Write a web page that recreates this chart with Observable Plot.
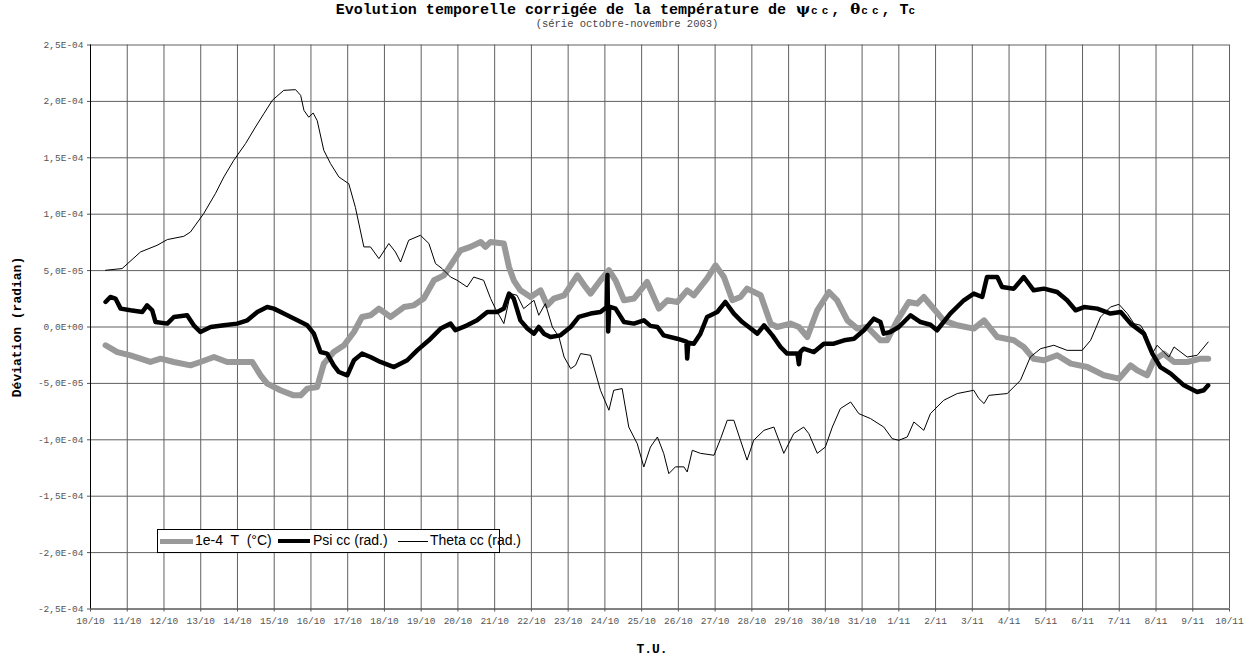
<!DOCTYPE html>
<html><head><meta charset="utf-8">
<script src="https://cdn.jsdelivr.net/npm/d3@7"></script>
<script src="https://cdn.jsdelivr.net/npm/@observablehq/plot@0.6"></script>
<style>
body{margin:0;background:#fff;}
#wrap{position:relative;width:1254px;height:660px;overflow:hidden;}
#head{height:30px;width:1254px;position:relative;}
#title{position:absolute;top:2px;left:0;width:1254px;text-align:center;font:bold 15px/16px "Liberation Mono","Courier New",monospace;color:#000;white-space:pre;}
#title .g{display:inline-block;line-height:14px;font-family:"DejaVu Serif",serif;font-weight:bold;font-size:15px;padding:0 1px;}
#title .s{display:inline-block;line-height:12px;font-size:11px;font-weight:bold;letter-spacing:4px;margin-right:-1px;}
#sub{position:absolute;top:19px;left:0;width:1254px;text-align:center;font:10.5px/11px "Liberation Mono","Courier New",monospace;color:#444;}
#legend{position:absolute;left:157px;top:529px;width:341px;height:22px;border:1px solid #000;background:#fff;font:14px "Liberation Sans",Arial,sans-serif;color:#000;}
#legend .it{position:absolute;top:2px;white-space:pre;}
#legend .sw{position:absolute;}
</style>
</head><body>
<div id="wrap">
<div id="head">
<div id="title">Evolution temporelle corrigée de la température de <span class="g">ψ</span><span class="s">cc</span>, <span class="g">θ</span><span class="s">cc</span>, T<span class="s">c</span></div>
<div id="sub">(série octobre-novembre 2003)</div>
</div>
<div id="chart"></div>
<div id="legend"></div>
</div>
<script>
// x tick labels (one per day, 10/10 .. 10/11)
const xLabels = ["10/10","11/10","12/10","13/10","14/10","15/10","16/10","17/10","18/10","19/10","20/10","21/10","22/10","23/10","24/10","25/10","26/10","27/10","28/10","29/10","30/10","31/10","1/11","2/11","3/11","4/11","5/11","6/11","7/11","8/11","9/11","10/11"];
const xTicks = d3.range(xLabels.length);
// y ticks (units of 1e-5 radian)
const yTickVals = [25, 20, 15, 10, 5, 0, -5, -10, -15, -20, -25];
const yTickLabels = ["2,5E-04","2,0E-04","1,5E-04","1,0E-04","5,0E-05","0,0E+00","-5,0E-05","-1,0E-04","-1,5E-04","-2,0E-04","-2,5E-04"];

// Series: day offset from 10/10 00:00, value in 1e-5
const tempDays = [0.41,0.73,1.09,1.63,1.91,2.27,2.72,2.99,3.36,3.72,3.99,4.40,4.63,4.81,5.17,5.53,5.72,5.90,6.17,6.35,6.62,6.90,7.17,7.39,7.62,7.85,8.17,8.53,8.80,9.07,9.35,9.62,9.80,10.07,10.34,10.62,10.75,10.89,11.25,11.39,11.52,11.70,11.98,12.25,12.43,12.61,12.89,13.25,13.47,13.61,13.88,14.11,14.29,14.52,14.79,15.15,15.33,15.47,15.70,15.97,16.24,16.42,16.78,17.01,17.24,17.47,17.69,17.87,18.24,18.51,18.69,19.05,19.28,19.51,19.78,20.10,20.32,20.60,20.87,21.14,21.50,21.68,21.96,22.27,22.50,22.68,22.91,23.22,23.59,24.04,24.32,24.68,25.13,25.40,25.67,25.95,26.31,26.68,27.13,27.58,27.99,28.31,28.49,28.76,28.94,29.21,29.49,29.85,30.21,30.42];
const tempVals = [-1.62,-2.22,-2.51,-3.1,-2.81,-3.1,-3.4,-3.1,-2.66,-3.1,-3.1,-3.1,-4.28,-5.02,-5.61,-6.06,-6.06,-5.46,-5.32,-3.25,-2.22,-1.62,-0.44,0.89,1.04,1.63,0.89,1.77,1.92,2.52,4.14,4.58,5.47,6.8,7.1,7.54,7.1,7.54,7.4,5.32,4.14,3.25,2.66,3.25,1.92,2.52,2.81,4.58,3.55,2.96,4.14,5.03,4.14,2.37,2.52,3.99,2.66,1.63,2.37,2.22,3.25,2.81,4.29,5.47,4.43,2.37,2.66,3.4,2.81,0.3,0,0.3,0,-0.89,1.48,3.1,2.37,0.59,-0.14,0,-1.18,-1.18,0.59,2.22,2.07,2.66,1.77,0.59,0.15,-0.14,0.59,-0.89,-1.18,-1.77,-2.81,-2.95,-2.51,-3.25,-3.55,-4.28,-4.58,-3.4,-3.84,-4.28,-2.95,-2.36,-3.1,-3.1,-2.81,-2.81];

const psiDays = [0.41,0.54,0.68,0.82,1.09,1.41,1.54,1.68,1.77,2.09,2.27,2.63,2.81,2.99,3.27,3.63,3.99,4.27,4.54,4.81,4.99,5.26,5.63,5.90,6.08,6.26,6.44,6.62,6.76,6.99,7.17,7.39,7.62,7.89,8.26,8.62,8.89,9.21,9.53,9.80,9.93,10.25,10.52,10.80,11.07,11.25,11.39,11.52,11.70,11.89,12.07,12.20,12.34,12.52,12.79,13.07,13.29,13.61,13.88,14.05,14.07,14.09,14.12,14.29,14.52,14.79,15.06,15.24,15.43,15.60,15.97,16.22,16.24,16.27,16.42,16.60,16.78,17.06,17.28,17.51,17.74,17.97,18.15,18.33,18.56,18.78,18.96,19.24,19.28,19.32,19.41,19.69,19.96,20.23,20.51,20.78,21.05,21.32,21.50,21.59,21.77,22.0,22.32,22.59,22.86,23.04,23.40,23.77,24.04,24.27,24.40,24.68,24.81,25.13,25.40,25.67,25.95,26.31,26.58,26.81,27.04,27.40,27.76,28.04,28.31,28.67,28.90,29.12,29.40,29.76,30.12,30.30,30.42];
const psiVals = [2.22,2.66,2.52,1.63,1.48,1.33,1.92,1.48,0.44,0.3,0.89,1.04,0.15,-0.44,0,0.15,0.3,0.59,1.33,1.77,1.63,1.19,0.59,0.15,-0.59,-2.22,-2.36,-3.4,-3.99,-4.28,-2.95,-2.36,-2.66,-3.1,-3.55,-2.95,-2.07,-1.18,-0.14,0.30,-0.29,0.15,0.59,1.33,1.33,1.63,2.96,2.52,0.59,-0.14,-0.59,0,-0.59,-0.89,-0.74,0,0.89,1.19,1.33,1.77,4.6,-0.4,1.8,1.63,0.44,0.3,0.59,0.1,0,-0.74,-1.04,-1.3,-2.8,-1.4,-1.48,-0.59,0.89,1.33,2.22,1.19,0.44,-0.14,-0.59,0.15,-0.74,-1.77,-2.36,-2.36,-3.3,-2.2,-1.92,-2.22,-1.48,-1.48,-1.18,-1.04,-0.29,0.74,0.44,-0.59,-0.44,0,1.04,0.44,0.2,-0.29,1.19,2.37,2.96,2.66,4.43,4.43,3.55,3.4,4.43,3.25,3.4,3.1,2.37,1.48,1.77,1.63,1.19,1.33,0.3,-0.59,-2.36,-3.55,-4.13,-5.17,-5.76,-5.61,-5.17];

const thetaDays = [0.41,0.86,1.36,1.81,2.09,2.54,2.72,3.08,3.40,3.63,3.90,4.22,4.49,4.72,4.95,5.26,5.58,5.72,5.81,5.94,6.06,6.17,6.35,6.53,6.76,7.03,7.21,7.44,7.62,7.85,8.12,8.30,8.44,8.66,8.98,9.21,9.39,9.57,9.80,9.98,10.25,10.43,10.70,10.89,11.02,11.25,11.43,11.61,11.79,12.07,12.20,12.38,12.57,12.75,12.89,13.07,13.20,13.34,13.61,13.88,14.11,14.24,14.47,14.65,14.88,15.06,15.24,15.43,15.60,15.74,15.92,16.15,16.24,16.38,16.60,16.97,17.15,17.33,17.51,17.69,17.87,18.05,18.33,18.60,18.87,19.14,19.41,19.55,19.78,20.0,20.19,20.41,20.69,20.91,21.23,21.59,21.82,22.0,22.23,22.41,22.68,22.86,23.22,23.59,24.04,24.18,24.32,24.45,24.95,25.31,25.58,25.86,26.22,26.58,26.99,27.22,27.49,27.76,27.99,28.22,28.40,28.58,28.72,28.90,29.03,29.21,29.35,29.49,29.85,30.12,30.42];
const thetaVals = [5.03,5.18,6.65,7.24,7.75,8.04,8.42,10.05,11.83,13.3,14.78,16.26,17.73,18.92,20.1,20.98,21.04,20.54,19.2,18.6,18.97,18.3,15.66,14.5,13.3,12.7,10.6,7.1,7.1,6.06,7.4,6.65,5.76,7.69,8.13,7.4,5.62,5.18,4.43,4.14,3.55,4.43,4.14,2.52,1.63,0.3,2.96,2.81,1.63,2.37,1.04,2.07,0,-0.89,-2.66,-3.69,-3.4,-2.36,-2.51,-5.61,-7.38,-5.61,-5.46,-8.87,-10.34,-12.41,-10.64,-9.75,-11.2,-13.0,-12.4,-12.4,-12.85,-10.93,-11.2,-11.37,-9.9,-8.27,-8.27,-10.04,-11.8,-10.04,-9.16,-8.87,-11.2,-9.45,-8.87,-9.45,-11.2,-10.64,-8.87,-7.23,-6.65,-7.68,-8.12,-8.87,-9.9,-10.04,-9.75,-8.42,-9.16,-7.68,-6.5,-5.9,-5.61,-6.35,-6.79,-6.06,-5.9,-4.73,-2.66,-1.92,-1.62,-2.07,-2.07,-1.18,0.89,1.77,2.01,1.19,0.30,0.15,-0.59,-2.36,-1.62,-2.22,-2.66,-1.77,-2.66,-2.51,-1.33];

const legendItems = [
  {label: "1e-4  T  (°C)", color: "#999999", width: 5},
  {label: "Psi cc (rad.)", color: "#000000", width: 4},
  {label: "Theta cc (rad.)", color: "#000000", width: 1}
];

const toRows = (days, vals) => days.map((d, i) => ({d, v: vals[i]}));
const temp = toRows(tempDays, tempVals);
const psi = toRows(psiDays, psiVals);
const theta = toRows(thetaDays, thetaVals);

const chart = Plot.plot({
  width: 1254, height: 630,
  marginTop: 14.5, marginBottom: 51.5, marginLeft: 90, marginRight: 25,
  x: {domain: [0, 31]},
  y: {domain: [-25, 25]},
  style: {fontFamily: "'Liberation Mono','Courier New',monospace", fontSize: "9.5px", color: "#555", background: "#fff", overflow: "visible"},
  marks: [
    Plot.gridX(xTicks, {stroke: "#606060", strokeOpacity: 1}),
    Plot.gridY(yTickVals, {stroke: "#606060", strokeOpacity: 1}),
    Plot.line(temp, {x: "d", y: "v", stroke: "#999999", strokeWidth: 6, strokeLinejoin: "round", strokeLinecap: "round"}),
    Plot.line(psi, {x: "d", y: "v", stroke: "#000", strokeWidth: 4.5, strokeLinejoin: "round"}),
    Plot.line(theta, {x: "d", y: "v", stroke: "#000", strokeWidth: 1}),
    Plot.ruleX([0], {stroke: "#000"}),
    Plot.ruleY([-25], {stroke: "#555"}),
    Plot.axisX(xTicks, {tickSize: 3, tickPadding: 5, tickFormat: i => xLabels[i], label: null, fill: "#555"}),
    Plot.axisY(yTickVals, {tickSize: 3, tickPadding: 4, tickFormat: v => yTickLabels[yTickVals.indexOf(v)], label: null, fill: "#555"}),
    Plot.text(["Déviation (radian)"], {frameAnchor: "left", textAnchor: "middle", dx: -74, rotate: -90, fontWeight: "bold", fontSize: 13, fill: "#000"}),
    Plot.text(["T.U."], {frameAnchor: "bottom", lineAnchor: "middle", dy: 40, dx: -8, fontWeight: "bold", fontSize: 13, fill: "#000"})
  ]
});
document.getElementById("chart").appendChild(chart);

// legend overlay
const lg = document.getElementById("legend");
const pos = [{sw: 2, sww: 33, tx: 37}, {sw: 120, sww: 32, tx: 155}, {sw: 240, sww: 30, tx: 272}];
legendItems.forEach((it, i) => {
  const s = document.createElement("div");
  s.className = "sw";
  s.style.left = pos[i].sw + "px";
  s.style.width = pos[i].sww + "px";
  s.style.height = it.width + "px";
  s.style.top = (11 - it.width / 2) + "px";
  s.style.background = it.color;
  lg.appendChild(s);
  const t = document.createElement("div");
  t.className = "it";
  t.style.left = pos[i].tx + "px";
  t.textContent = it.label;
  lg.appendChild(t);
});
</script>
</body></html>
